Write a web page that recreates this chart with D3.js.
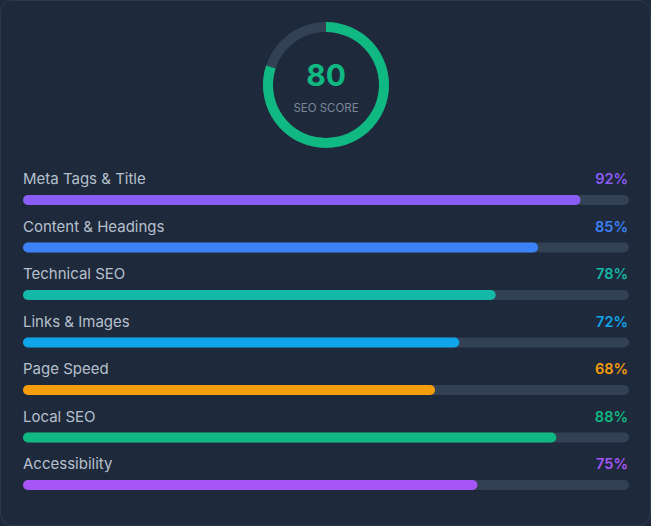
<!DOCTYPE html>
<html><head><meta charset="utf-8">
<script src="https://cdn.jsdelivr.net/npm/d3@7"></script>
<style>
html,body{margin:0;padding:0;background:#1e293b;}
svg{display:block;font-family:Inter,"Noto Sans",sans-serif;}
</style></head>
<body>
<svg id="c" width="651" height="526"></svg>
<script>
const categories = ["Meta Tags & Title","Content & Headings","Technical SEO","Links & Images","Page Speed","Local SEO","Accessibility"];
const values = [92,85,78,72,68,88,75];
const colors = ["#8b5cf6","#3b82f6","#14b8a6","#0ea5e9","#f59e0b","#10b981","#a855f7"];
const overallScore = 80;
const scoreLabel = "SEO SCORE";

const svg = d3.select("#c");
const W = 651, H = 526;
svg.append("rect").attr("x",0.5).attr("y",0.5).attr("width",W-1).attr("height",H-1)
  .attr("rx",12).attr("fill","#1e293b").attr("stroke","#2d3a4d");

// Gauge
const g = svg.append("g").attr("transform","translate(326,85)");
const arc = d3.arc().innerRadius(53).outerRadius(63);
const angle = d3.scaleLinear().domain([0,100]).range([0,2*Math.PI]);
g.append("path").attr("d",arc({startAngle:0,endAngle:2*Math.PI})).attr("fill","#334155");
g.append("path").attr("d",arc({startAngle:0,endAngle:angle(overallScore)})).attr("fill","#10b981");
g.append("text").attr("text-anchor","middle").attr("y",1).attr("font-size",30).attr("font-weight",700)
  .attr("fill","#10b981").text(overallScore);
g.append("text").attr("text-anchor","middle").attr("y",27).attr("font-size",11.5)
  .attr("fill","#7c8799").text(scoreLabel);

// Bars
const x = d3.scaleLinear().domain([0,100]).range([23,629]);
const y = d3.scaleBand().domain(categories).range([170,502.5]).paddingInner(0).paddingOuter(0);
const barH = 10;
const rows = svg.append("g").selectAll("g").data(categories).join("g")
  .attr("transform",d=>`translate(0,${y(d)})`);
rows.append("text").attr("x",23).attr("y",14).attr("font-size",15).attr("fill","#b6c0cd").text(d=>d);
rows.append("text").attr("x",628).attr("y",14).attr("text-anchor","end").attr("font-size",14.5)
  .attr("font-weight",600).attr("fill",(d,i)=>colors[i]).text((d,i)=>values[i]+"%");
rows.append("rect").attr("x",x(0)).attr("y",25).attr("width",x(100)-x(0)).attr("height",barH)
  .attr("rx",5).attr("fill","#334155");
rows.append("rect").attr("x",x(0)).attr("y",25).attr("width",(d,i)=>x(values[i])-x(0)).attr("height",barH)
  .attr("rx",5).attr("fill",(d,i)=>colors[i]);
</script>
</body></html>
